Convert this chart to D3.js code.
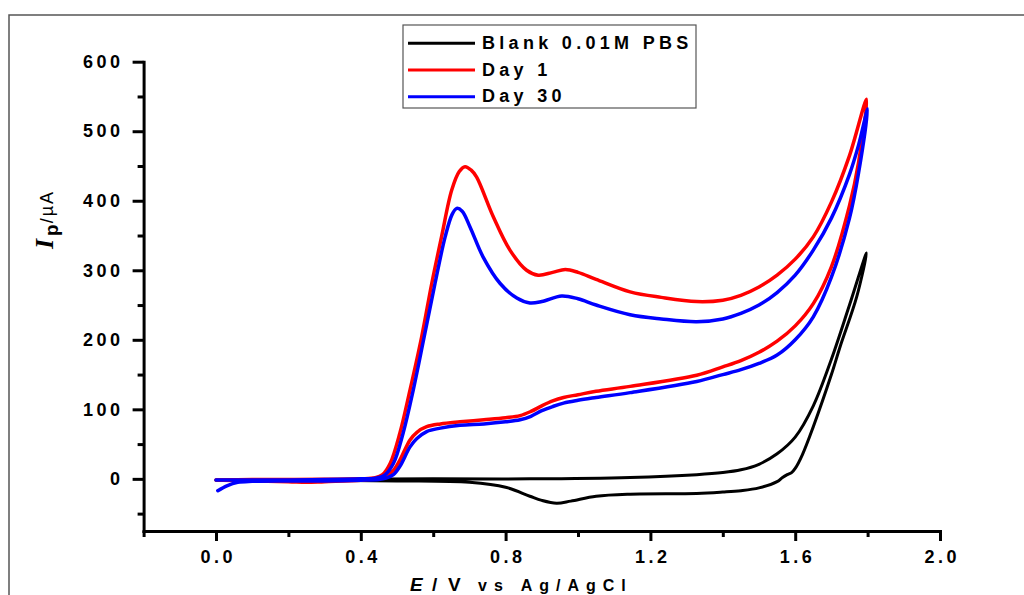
<!DOCTYPE html>
<html>
<head>
<meta charset="utf-8">
<script src="https://cdn.jsdelivr.net/npm/d3@7"></script>
<style>
  html, body { margin: 0; padding: 0; background: #fff; }
  svg { display: block; }
  text { font-family: "Liberation Sans", Arial, sans-serif; }
</style>
</head>
<body>
<svg id="chart" width="1024" height="595"></svg>
<script>
// ---------------- data ----------------
const seriesNames = ["Blank 0.01M PBS", "Day 1", "Day 30"];
const seriesColors = ["#000000", "#ff0000", "#0000ff"];

// Blank 0.01M PBS : potential (V) and current (µA), forward then reverse scan
const blankPotential = [0.00, 0.20, 0.40, 0.60, 0.867, 1.144, 1.328, 1.40, 1.45, 1.50, 1.55, 1.60, 1.65, 1.70, 1.75, 1.797,
  1.77, 1.724, 1.70, 1.65, 1.62, 1.60, 1.59, 1.578, 1.565, 1.55, 1.50, 1.45, 1.40, 1.328, 1.144, 1.05, 0.98, 0.941, 0.90, 0.867, 0.80, 0.70, 0.50, 0.30, 0.00];
const blankCurrent = [-1.5, -1, -0.5, 0, 0, 2, 6, 9, 13, 21, 36, 60, 105, 172, 250, 325,
  262, 190, 150, 75, 35, 15, 9, 6, 2, -4, -13, -17, -19, -21, -22, -25, -32, -35, -31, -25, -12, -5, -3, -2, -2];

// Day 1
const day1Potential = [0.00, 0.10, 0.20, 0.30, 0.40, 0.44, 0.46, 0.481, 0.508, 0.536, 0.568, 0.596, 0.623, 0.651, 0.672, 0.688, 0.705, 0.72, 0.766, 0.812, 0.858, 0.89, 0.93, 0.965, 1.00, 1.05, 1.144, 1.23, 1.328, 1.40, 1.45, 1.50, 1.55, 1.60, 1.65, 1.70, 1.75, 1.797,
  1.775, 1.75, 1.70, 1.65, 1.60, 1.55, 1.50, 1.45, 1.40, 1.328, 1.144, 1.05, 1.00, 0.96, 0.93, 0.90, 0.87, 0.84, 0.80, 0.74, 0.674, 0.62, 0.582, 0.555, 0.536, 0.508, 0.49, 0.471, 0.45, 0.40, 0.30, 0.25, 0.20, 0.10, 0.02, 0.00];
const day1Current = [-1.5, -1, -1, -0.5, 0, 1.5, 6, 22, 66, 128, 204, 281, 348, 415, 442, 449, 444, 434, 377, 329, 300, 293, 297, 301, 297, 287, 269, 261, 255, 257, 264, 276, 293, 316, 348, 398, 465, 546,
  455, 393, 305, 252, 220, 198, 182, 170, 161, 149, 133, 126, 121, 117, 112, 105, 97, 91, 88, 85, 82, 79, 75, 67, 56, 27, 12, 5, 1, -2, -4, -5, -4, -3, -2, -1.5];

// Day 30
const day30Potential = [0.00, 0.10, 0.20, 0.30, 0.40, 0.44, 0.465, 0.49, 0.517, 0.545, 0.575, 0.605, 0.633, 0.652, 0.665, 0.68, 0.702, 0.738, 0.785, 0.831, 0.867, 0.90, 0.955, 1.00, 1.05, 1.144, 1.23, 1.328, 1.40, 1.45, 1.50, 1.55, 1.60, 1.65, 1.70, 1.75, 1.775, 1.80,
  1.775, 1.75, 1.70, 1.65, 1.60, 1.55, 1.50, 1.45, 1.40, 1.328, 1.144, 1.05, 1.00, 0.96, 0.93, 0.90, 0.87, 0.84, 0.80, 0.74, 0.674, 0.62, 0.582, 0.555, 0.536, 0.508, 0.49, 0.47, 0.45, 0.40, 0.30, 0.20, 0.10, 0.06, 0.03, 0.005];
const day30Current = [-1.5, -1.5, -1.5, -1, 0, 1, 5, 22, 66, 128, 204, 281, 348, 380, 389, 385, 362, 319, 281, 260, 253, 255, 263, 259, 250, 236, 230, 226, 230, 238, 250, 268, 293, 329, 375, 438, 480, 532,
  440, 375, 290, 233, 200, 178, 166, 157, 150, 140, 124, 117, 113, 109, 104, 98, 90, 85, 82, 79, 77, 73, 68, 58, 46, 18, 6, 1, -1, -2, -3, -3, -3.5, -5, -10, -17];

const xMajorTicks = [0.0, 0.4, 0.8, 1.2, 1.6, 2.0];
const xMinorTicks = [-0.2, 0.2, 0.6, 1.0, 1.4, 1.8];
const yMajorTicks = [0, 100, 200, 300, 400, 500, 600];
const yMinorTicks = [-50, 50, 150, 250, 350, 450, 550];

// ---------------- drawing ----------------
const svg = d3.select("#chart");

// outer frame
svg.append("rect")
  .attr("x", 9).attr("y", 15).attr("width", 1030).attr("height", 600)
  .attr("fill", "none").attr("stroke", "#555").attr("stroke-width", 1.5);

const x = d3.scaleLinear().domain([-0.2, 2.0]).range([143.6, 940]);
const y = d3.scaleLinear().domain([-75, 600]).range([531, 61.7]);

const fmtX = d3.format(".1f");

// minor ticks
const gxMinor = svg.append("g").attr("transform", `translate(0,${y(-75)})`)
  .call(d3.axisBottom(x).tickValues(xMinorTicks).tickSize(6).tickSizeOuter(0).tickFormat(""));
const gyMinor = svg.append("g").attr("transform", `translate(${x(-0.2)},0)`)
  .call(d3.axisLeft(y).tickValues(yMinorTicks).tickSize(6).tickSizeOuter(0).tickFormat(""));
[gxMinor, gyMinor].forEach(g => { g.select(".domain").remove(); g.selectAll("line").attr("stroke", "#000").attr("stroke-width", 3); });

// major axes
const gx = svg.append("g").attr("transform", `translate(0,${y(-75)})`)
  .call(d3.axisBottom(x).tickValues(xMajorTicks).tickSize(10).tickSizeOuter(0).tickPadding(9).tickFormat(fmtX));
const gy = svg.append("g").attr("transform", `translate(${x(-0.2)},0)`)
  .call(d3.axisLeft(y).tickValues(yMajorTicks).tickSize(11).tickSizeOuter(0).tickPadding(12.5));

[gx, gy].forEach(g => {
  g.select(".domain").attr("stroke", "#000").attr("stroke-width", 3).attr("stroke-linecap", "square");
  g.selectAll("line").attr("stroke", "#000").attr("stroke-width", 3);
  g.selectAll("text").attr("font-family", '"Liberation Sans", Arial, sans-serif')
    .attr("font-size", 18).attr("font-weight", "bold").attr("fill", "#000")
    .style("letter-spacing", "3.5px");
});
gx.selectAll("text").attr("dx", 1.75);
gy.selectAll("text").attr("dx", 3.5);

// curves
const series = [
  { name: seriesNames[0], color: seriesColors[0], v: blankPotential, i: blankCurrent, w: 3 },
  { name: seriesNames[1], color: seriesColors[1], v: day1Potential, i: day1Current, w: 3.5 },
  { name: seriesNames[2], color: seriesColors[2], v: day30Potential, i: day30Current, w: 3.5 }
];
const line = d3.line().x(d => x(d[0])).y(d => y(d[1])).curve(d3.curveCatmullRom.alpha(0.5));

svg.append("g").selectAll("path").data(series).join("path")
  .attr("d", s => line(s.v.map((v, k) => [v, s.i[k]])))
  .attr("fill", "none")
  .attr("stroke", s => s.color)
  .attr("stroke-width", s => s.w)
  .attr("stroke-linejoin", "round")
  .attr("stroke-linecap", "round");

// legend
const lg = svg.append("g");
lg.append("rect").attr("x", 403).attr("y", 25).attr("width", 293).attr("height", 83)
  .attr("fill", "#fff").attr("stroke", "#555").attr("stroke-width", 1.2);
const legendRows = lg.selectAll("g.row").data(series).join("g").attr("class", "row")
  .attr("transform", (d, k) => `translate(0,${43.3 + k * 26.7})`);
legendRows.append("line").attr("x1", 408).attr("x2", 475).attr("y1", 0).attr("y2", 0)
  .attr("stroke", d => d.color).attr("stroke-width", 3);
legendRows.append("text").attr("x", 482).attr("y", 5.5)
  .attr("font-size", 18).attr("font-weight", "bold").style("letter-spacing", "4.3px")
  .text(d => d.name);

// x-axis title
const xt = svg.append("text").attr("y", 591).attr("font-weight", "bold").attr("fill", "#000");
xt.append("tspan").attr("x", 410).attr("font-size", 19).attr("font-style", "italic").text("E");
xt.append("tspan").attr("x", 432).attr("font-size", 19).text("/");
xt.append("tspan").attr("x", 448).attr("font-size", 19).text("V");
xt.append("tspan").attr("x", 478).attr("font-size", 16).style("letter-spacing", "7px").text("vs Ag/AgCl");

// y-axis title
const yt = svg.append("text").attr("transform", "translate(53,249) rotate(-90)").attr("fill", "#000");
yt.append("tspan").attr("font-family", '"Liberation Serif", "Times New Roman", serif')
  .attr("font-size", 26).attr("font-weight", "bold").attr("font-style", "italic").text("I");
yt.append("tspan").attr("font-size", 19).attr("font-weight", "bold").attr("dy", 5).attr("dx", 3).text("p");
yt.append("tspan").attr("font-size", 18).attr("dy", -5).attr("dx", 1).style("letter-spacing", "2px").text("/µA");
</script>
</body>
</html>
